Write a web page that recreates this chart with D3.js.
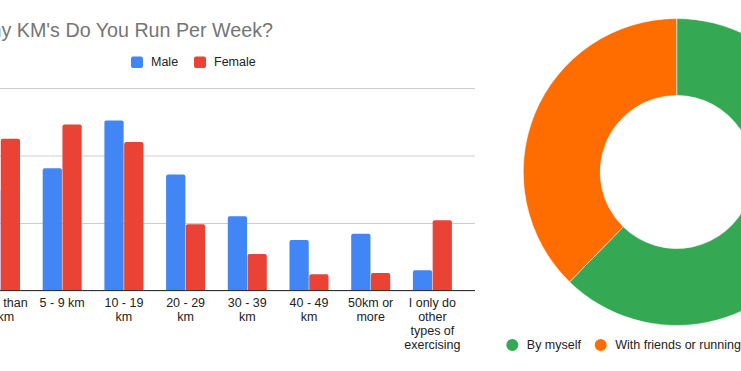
<!DOCTYPE html>
<html>
<head>
<meta charset="utf-8">
<script src="https://cdn.jsdelivr.net/npm/d3@7"></script>
<style>
  body { margin: 0; background: #fff; }
  svg { display: block; font-family: Arial, "Liberation Sans", sans-serif; }
</style>
</head>
<body>
<svg id="chart" width="741" height="371"></svg>
<script>
// bar chart data (share of runners, %)
const categories = ["Less than 5 km", "5 - 9 km", "10 - 19 km", "20 - 29 km", "30 - 39 km", "40 - 49 km", "50km or more", "I only do other types of exercising"];
const catLines = [["Less than", "5 km"], ["5 - 9 km"], ["10 - 19", "km"], ["20 - 29", "km"], ["30 - 39", "km"], ["40 - 49", "km"], ["50km or", "more"], ["I only do", "other", "types of", "exercising"]];
const series = ["Male", "Female"];
const maleValues = [15, 18.1, 25.2, 17.2, 11.0, 7.5, 8.4, 3.0];
const femaleValues = [22.5, 24.6, 22.0, 9.8, 5.4, 2.4, 2.6, 10.4];
const yTicks = [0, 10, 20, 30];
const colors = {Male: "#4285f4", Female: "#ea4335"};

// donut data
const donutLabels = ["By myself", "With friends or running group"];
const donutValues = [62.3, 37.7];
const donutColors = ["#34a853", "#ff6d01"];

const svg = d3.select("#chart");

// title (left part falls off the picture)
svg.append("text")
  .attr("x", 273).attr("y", 37)
  .attr("text-anchor", "end")
  .attr("font-size", 19.7)
  .attr("fill", "#757575")
  .text("How Many KM's Do You Run Per Week?");

// legend
const legendX = [131, 194];
series.forEach(function(s, i){
  svg.append("rect")
    .attr("x", legendX[i]).attr("y", 56.5)
    .attr("width", 12).attr("height", 11.5)
    .attr("rx", 2)
    .attr("fill", colors[s]);
  svg.append("text")
    .attr("x", legendX[i] + 20).attr("y", 66)
    .attr("font-size", 12.5)
    .attr("fill", "#222")
    .text(s);
});

const x0 = d3.scaleBand().domain(categories).range([-30.35, 463.25])
  .paddingInner(22.7 / 61.7).paddingOuter(22.7 / 61.7 / 2);
const x1 = d3.scaleBand().domain(series).range([0, x0.bandwidth()]).paddingInner(0.026);
const y = d3.scaleLinear().domain([0, 30]).range([290.5, 88]);

// gridlines
const grid = svg.append("g")
  .attr("transform", "translate(-40,0)")
  .call(d3.axisLeft(y).tickValues(yTicks).tickSize(-(475 + 40)).tickFormat(""));
grid.select(".domain").remove();
grid.selectAll(".tick line").attr("stroke", "#cccccc");

const rows = categories.map(function(c, i){
  return {cat: c, vals: [{s: "Male", v: maleValues[i]}, {s: "Female", v: femaleValues[i]}]};
});

// bars with slightly rounded tops
function barPath(x, w, top, bottom){
  const r = 2;
  return "M" + x + "," + bottom +
    "V" + (top + r) + "Q" + x + "," + top + " " + (x + r) + "," + top +
    "H" + (x + w - r) + "Q" + (x + w) + "," + top + " " + (x + w) + "," + (top + r) +
    "V" + bottom + "Z";
}
svg.append("g").selectAll("g")
  .data(rows).enter().append("g")
  .attr("transform", function(d){ return "translate(" + x0(d.cat) + ",0)"; })
  .selectAll("path")
  .data(function(d){ return d.vals; }).enter().append("path")
  .attr("fill", function(d){ return colors[d.s]; })
  .attr("d", function(d){ return barPath(x1(d.s), x1.bandwidth(), y(d.v), y(0)); });

// baseline
svg.append("line")
  .attr("x1", -40).attr("x2", 475)
  .attr("y1", y(0)).attr("y2", y(0))
  .attr("stroke", "#333").attr("stroke-width", 1.2);

// category labels
categories.forEach(function(c, i){
  const t = svg.append("text")
    .attr("text-anchor", "middle")
    .attr("font-size", 12.5)
    .attr("fill", "#222");
  catLines[i].forEach(function(line, j){
    t.append("tspan")
      .attr("x", x0(c) + x0.bandwidth() / 2)
      .attr("y", 306.5 + j * 14.2)
      .text(line);
  });
});

// donut
const pie = d3.pie().sort(null).value(function(d){ return d; });
const arc = d3.arc().innerRadius(76.5).outerRadius(153.5);
svg.append("g")
  .attr("transform", "translate(676.7,172)")
  .selectAll("path")
  .data(pie(donutValues)).enter().append("path")
  .attr("d", arc)
  .attr("fill", function(d, i){ return donutColors[i]; })
  .attr("stroke", "#fff").attr("stroke-width", 0.6);

const donutLegX = [512.3, 600.7];
donutLabels.forEach(function(l, i){
  svg.append("circle")
    .attr("cx", donutLegX[i]).attr("cy", 345)
    .attr("r", 6)
    .attr("fill", donutColors[i]);
  svg.append("text")
    .attr("x", donutLegX[i] + 14.5).attr("y", 349.3)
    .attr("font-size", 12.5)
    .attr("fill", "#222")
    .text(l);
});
</script>
</body>
</html>
